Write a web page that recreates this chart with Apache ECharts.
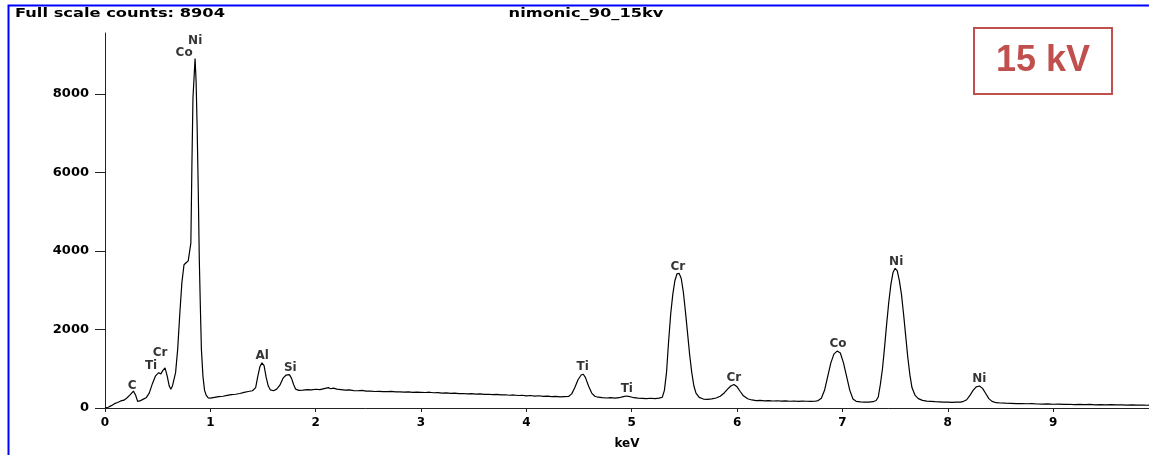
<!DOCTYPE html>
<html>
<head>
<meta charset="utf-8">
<script src="https://cdn.jsdelivr.net/npm/echarts@6/dist/echarts.min.js"></script>
<style>
html,body{margin:0;padding:0;background:#fff;}
#chart{width:1149px;height:455px;}
</style>
</head>
<body>
<div id="chart"></div>
<script>
// Spectrum: energy (keV) and counts
const energy = [
0.00,0.03,0.06,0.09,0.12,0.15,0.18,0.21,0.24,0.27,0.29,0.31,0.33,0.36,0.39,0.42,0.45,0.48,0.51,0.53,0.55,0.57,0.59,0.61,0.625,0.64,0.67,0.69,0.71,0.73,0.75,0.77,0.79,0.80,0.815,0.825,0.835,0.845,0.855,0.865,0.875,0.885,0.895,0.905,0.915,0.93,0.945,0.96,0.98,
1.00,1.04,1.08,1.12,1.16,1.20,1.24,1.28,1.32,1.36,1.40,1.43,1.45,1.47,1.49,1.51,1.53,1.55,1.57,1.60,1.63,1.66,1.69,1.72,1.75,1.77,1.79,1.81,1.84,
1.88,1.92,1.96,2.00,2.04,2.08,2.12,2.14,2.17,2.20,2.24,2.28,2.32,2.36,2.40,2.44,2.48,2.52,2.56,2.60,2.64,2.68,2.72,2.76,2.80,2.84,2.88,2.92,2.96,
3.00,3.04,3.08,3.12,3.16,3.20,3.24,3.28,3.32,3.36,3.40,3.44,3.48,3.52,3.56,3.60,3.64,3.68,3.72,3.76,3.80,3.84,3.88,3.92,3.96,
4.00,4.04,4.08,4.12,4.16,4.20,4.24,4.28,4.32,4.36,4.40,4.43,4.46,4.49,4.52,4.54,4.56,4.59,4.62,4.65,4.68,4.72,4.76,4.80,4.84,4.88,4.92,4.95,4.98,
5.02,5.06,5.10,5.14,5.18,5.22,5.26,5.29,5.31,5.33,5.35,5.37,5.39,5.41,5.43,5.45,5.47,5.49,5.51,5.53,5.55,5.57,5.59,5.61,5.64,5.68,5.72,5.76,5.80,5.84,5.88,5.91,5.94,5.97,
6.00,6.03,6.06,6.10,6.14,6.18,6.22,6.26,6.30,6.34,6.38,6.42,6.46,6.50,6.54,6.58,6.62,6.66,6.70,6.74,6.77,6.80,6.83,6.86,6.89,6.92,6.95,6.98,
7.01,7.04,7.07,7.10,7.13,7.17,7.21,7.25,7.29,7.32,7.34,7.36,7.38,7.40,7.42,7.44,7.46,7.48,7.50,7.52,7.54,7.56,7.58,7.60,7.62,7.64,7.66,7.69,7.72,7.76,7.80,7.84,7.88,7.92,7.96,
8.00,8.04,8.08,8.12,8.15,8.18,8.21,8.24,8.27,8.30,8.33,8.36,8.39,8.42,8.46,8.50,8.55,8.60,8.65,8.70,8.75,8.80,8.85,8.90,8.95,
9.00,9.05,9.10,9.15,9.20,9.25,9.30,9.35,9.40,9.45,9.50,9.55,9.60,9.65,9.70,9.75,9.80,9.85,9.90,9.91
];
const counts = [
0,20,60,110,140,180,200,260,340,430,330,170,180,220,260,380,620,820,900,870,960,1020,820,560,480,560,900,1500,2400,3200,3650,3700,3750,3720,4200,6200,7900,8400,8904,8300,7100,5600,3800,2600,1500,800,450,330,260,
250,270,290,300,320,340,350,370,400,420,440,520,800,1050,1150,1080,780,560,460,440,480,580,760,840,850,760,600,480,450,
455,470,462,478,470,495,520,490,505,480,470,455,462,445,440,448,428,432,420,425,418,415,422,410,412,405,410,398,405,
400,395,402,388,392,380,386,372,378,365,370,360,366,352,358,345,350,340,345,332,338,325,332,318,325,
310,318,305,312,298,305,292,298,285,290,295,360,520,720,840,860,780,560,380,300,275,262,255,262,250,262,290,305,292,
262,250,245,240,248,238,250,275,450,900,1700,2400,2900,3250,3420,3430,3300,2950,2450,1900,1350,900,560,380,270,228,222,232,255,300,390,480,560,600,
540,420,310,235,205,190,195,182,188,178,185,175,182,172,178,170,175,172,168,172,190,250,450,800,1150,1380,1450,1400,
1150,800,450,230,170,155,150,152,160,190,280,600,1000,1550,2150,2700,3150,3450,3560,3500,3250,2900,2400,1850,1300,850,520,320,240,195,175,168,160,158,150,
152,145,148,150,170,210,320,450,540,560,500,370,240,170,135,128,122,118,112,115,108,110,102,98,104,
95,98,92,95,88,92,85,90,82,86,80,84,78,82,75,78,72,76,70,72
];
// Peak annotations: element name, label keV, label counts
const peakNames  = ["C","Ti","Cr","Co","Ni","Al","Si","Ti","Ti","Cr","Cr","Co","Ni","Ni"];
const peakKeV    = [0.257,0.437,0.523,0.751,0.856,1.492,1.759,4.534,4.953,5.437,5.970,6.958,7.510,8.299];
const peakCounts = [575,1075,1400,9050,9350,1325,1025,1050,475,3600,775,1625,3725,750];
const xTicks = [0,1,2,3,4,5,6,7,8,9];
const yTicks = [0,2000,4000,6000,8000];
const titleLeft = "Full scale counts: 8904";
const titleCenter = "nimonic_90_15kv";
const badge = "15 kV";
const xName = "keV";

const spectrum = energy.map((e,i)=>[e,counts[i]]);
const peaks = peakNames.map((n,i)=>({value:[peakKeV[i],peakCounts[i]],name:n}));

const FONT = "DejaVu Sans";
const chart = echarts.init(document.getElementById('chart'), null, {renderer:'canvas'});
chart.setOption({
  animation:false,
  backgroundColor:'#ffffff',
  grid:{left:105,right:0,top:33,bottom:41,containLabel:false},
  xAxis:{
    type:'value',min:0,max:9.91,
    name:xName,nameLocation:'middle',nameGap:30,
    nameTextStyle:{fontFamily:FONT,fontWeight:'bold',fontSize:12,color:'#000'},
    splitLine:{show:false},
    axisLine:{show:true,onZero:false,lineStyle:{color:'#222',width:1}},
    axisTick:{show:true,length:4,inside:false,customValues:xTicks,lineStyle:{color:'#222'}},
    axisLabel:{customValues:xTicks,margin:9,fontFamily:FONT,fontWeight:'bold',fontSize:12,color:'#000'}
  },
  yAxis:{
    type:'value',min:0,max:9555,
    splitLine:{show:false},
    axisLine:{show:true,lineStyle:{color:'#222',width:1}},
    axisTick:{show:true,length:10,customValues:yTicks,lineStyle:{color:'#222'}},
    axisLabel:{customValues:yTicks,margin:16,formatter:v=>String(v),fontFamily:FONT,fontWeight:'bold',fontSize:13,color:'#000'}
  },
  series:[
    {type:'line',data:spectrum,symbol:'none',smooth:false,
     lineStyle:{color:'#000',width:1.2},z:3},
    {type:'scatter',data:peaks,symbolSize:1,itemStyle:{color:'rgba(0,0,0,0)'},
     label:{show:true,position:'inside',formatter:p=>p.name,fontFamily:FONT,fontWeight:'bold',fontSize:12,color:'#000'},
     z:4}
  ],
  graphic:[
    {type:'rect',shape:{x:8.5,y:5.5,width:1300,height:600},style:{fill:'none',stroke:'#0000ff',lineWidth:2},z:10,silent:true},
    {type:'text',x:15,y:7,scaleX:1.25,style:{text:titleLeft,font:'bold 13px "DejaVu Sans"',fill:'#000'},z:10},
    {type:'text',x:586,y:7,scaleX:1.25,style:{text:titleCenter,font:'bold 13px "DejaVu Sans"',fill:'#000',textAlign:'center'},z:10},
    {type:'rect',shape:{x:974,y:28,width:138,height:66},style:{fill:'#fff',stroke:'#c0504d',lineWidth:2},z:10},
    {type:'text',x:1043,y:61,style:{text:badge,font:'bold 36px "Liberation Sans"',fill:'#c0504d',textAlign:'center',textVerticalAlign:'middle'},z:11}
  ]
});
</script>
</body>
</html>
